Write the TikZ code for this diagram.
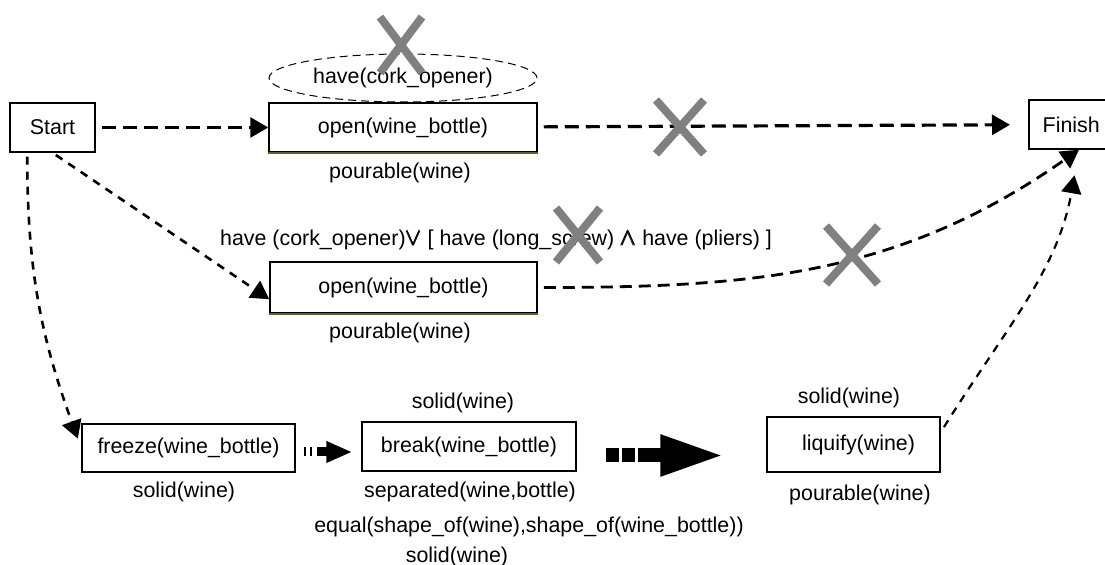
\documentclass[tikz,border=0pt]{standalone}
\usepackage{amsmath}
\usepackage{amssymb}
\usepackage{fontspec}
\setmainfont{Liberation Sans}
\usetikzlibrary{arrows.meta,shapes.geometric,shapes.misc}

\tikzset{
  act/.style={draw, line width=0.75pt, inner sep=0pt},
  link/.style={line width=1.6pt, dash pattern=on 7pt off 3.5pt, -{Triangle[length=9pt,width=10pt]}},
  slim/.style={link, line width=1.3pt, dash pattern=on 4pt off 3.5pt},
  nudge/.style={line width=4.5pt, dash pattern=on 1pt off 2pt on 1pt off 2.5pt on 12pt, -{Triangle[length=13pt,width=10pt]}},
  push/.style={line width=7pt, dash pattern=on 6.5pt off 1.5pt on 6.5pt off 1.5pt on 20pt, -{Triangle[length=32pt,width=19pt]}},
  veto/.style={cross out, draw=gray, line width=4pt, inner sep=0pt, outer sep=0pt},
}

\begin{document}
\begin{tikzpicture}[x=0.5pt, y=-0.5pt, font=\fontsize{10.7}{13}\selectfont]
\useasboundingbox (0,0) rectangle (1105,565);
\clip (0,0) rectangle (1105,565);

% steps
\node[act, minimum width=42.5pt, minimum height=24.5pt] (start) at (52.5,127.5) {Start};
\node[act, minimum width=134pt, minimum height=24.5pt] (open1) at (403,127.5) {open(wine\_bottle)};
\node[act, minimum width=42.5pt, minimum height=24.5pt, anchor=west] (finish) at (1028,124.5) {Finish};
\node[act, minimum width=133.5pt, minimum height=25.5pt] (open2) at (403.5,287.5) {open(wine\_bottle)};
\node[act, minimum width=106.5pt, minimum height=24pt] (freeze) at (188.5,448) {freeze(wine\_bottle)};
\node[act, minimum width=107pt, minimum height=24.5pt] (break) at (469,446.5) {break(wine\_bottle)};
\node[act, minimum width=86.5pt, minimum height=27.5pt] (liquify) at (853.5,444.5) {\hspace{5pt}liquify(wine)};

\draw[olive!60!black, line width=0.9pt] (open1.south west) -- (open1.south east);
\draw[olive!60!black, line width=0.9pt] (open2.south west) -- (open2.south east);

% conditions
\node[ellipse, draw, line width=0.5pt, dash pattern=on 4pt off 2.5pt,
      minimum width=134pt, minimum height=24pt, inner sep=0pt] (cork) at (403,78) {\raisebox{-3pt}{have(cork\_opener)}};
\node (pour1) at (400,173) {pourable(wine)};
\node (tools) at (496,240) {have (cork\_opener){\large$\pmb{\vee}$} [ have (long\_screw) {\large$\pmb{\wedge}$} have (pliers) ]};
\node (pour2) at (400,333) {pourable(wine)};
\node (solid1) at (184,492) {solid(wine)};
\node (solid2) at (463,403) {solid(wine)};
\node (sep) at (470,492) {separated(wine,bottle)};
\node (equal) at (529,527) {equal(shape\_of(wine),shape\_of(wine\_bottle))};
\node (solid3) at (457,557) {solid(wine)};
\node (solid4) at (849,398) {solid(wine)};
\node (pour3) at (860,495) {pourable(wine)};

% links
\draw[link, shorten <=3pt] (start) -- (open1);
\draw[link, shorten <=3pt, shorten >=9pt] (open1) -- (finish);
\draw[slim, shorten <=2pt] (start.south) -- (open2.185);
\draw[slim, shorten <=2pt, shorten >=5pt] (start.225) to[out=-90, in=110] (freeze.west);
\draw[link, line width=1.4pt, dash pattern=on 6pt off 3.5pt, shorten <=3pt] (open2.east) to[out=0, in=-145] (finish.-73);
\draw[slim, line width=1.1pt, shorten <=3pt, shorten >=13pt] (liquify.8) to[out=58, in=-100] (finish.-73);
\draw[nudge, transform canvas={yshift=-2pt}, shorten <=4pt, shorten >=4.5pt] (freeze.east) -- (freeze.east -| break.west);
\draw[push, transform canvas={yshift=-4.5pt}, shorten <=14.5pt, shorten >=21pt] (break.east) -- (break.east -| liquify.west);

% ruled out
\node[veto, minimum width=21pt, minimum height=28pt] (x1) at (401,45) {};
\node[veto, minimum width=24pt, minimum height=27pt] (x2) at (680,127) {};
\node[veto, minimum width=22pt, minimum height=27pt] (x3) at (578,235) {};
\node[veto, minimum width=26pt, minimum height=29pt] (x4) at (852,255) {};
\end{tikzpicture}
\end{document}
